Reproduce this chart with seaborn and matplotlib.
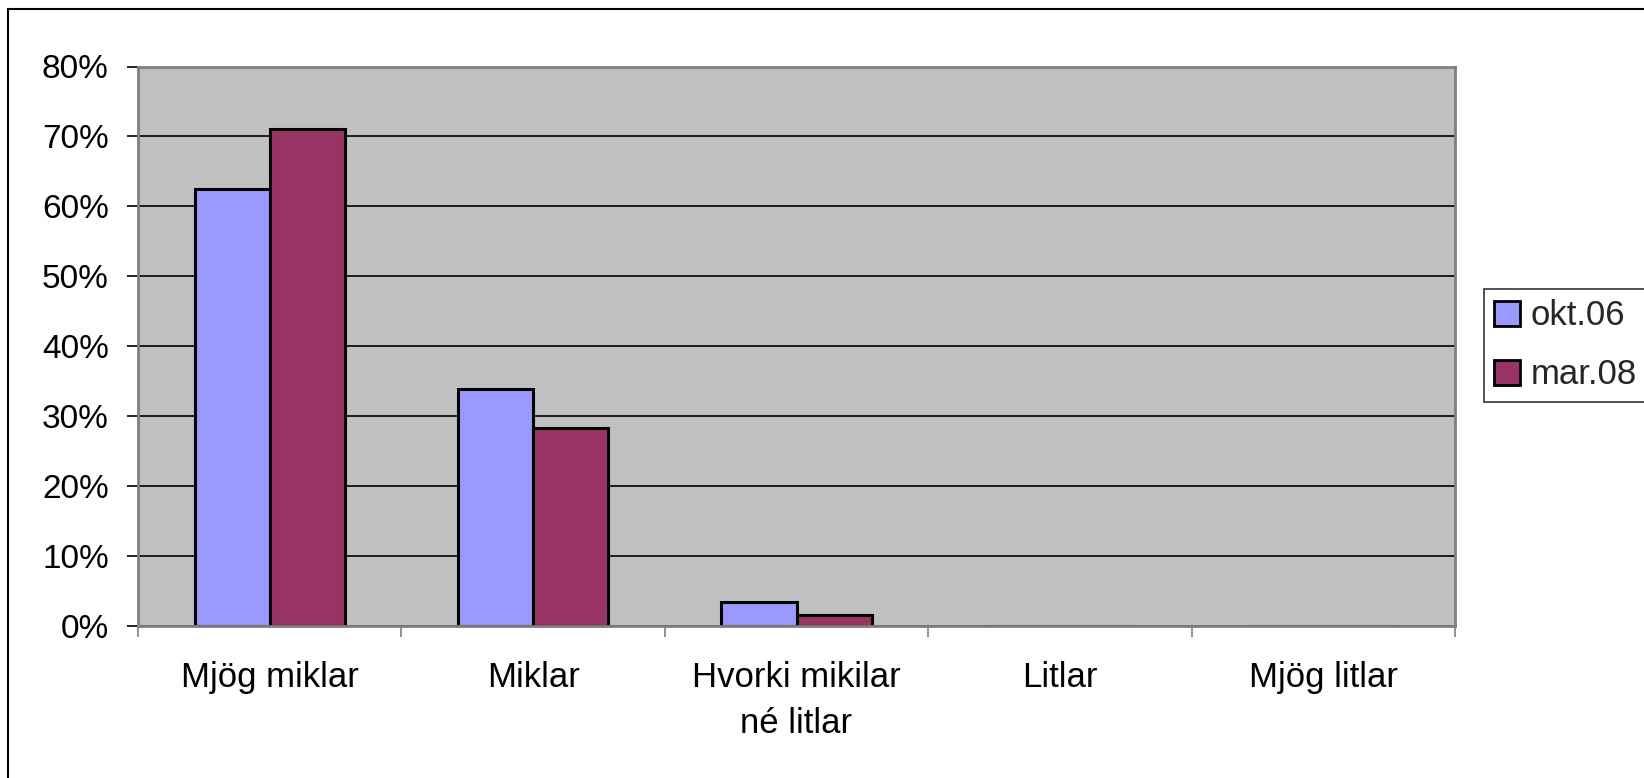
import pandas as pd
import numpy as np
import matplotlib
matplotlib.use('Agg')
import matplotlib.pyplot as plt
import seaborn as sns
from matplotlib.ticker import FixedLocator, PercentFormatter

categories = ['Mjög miklar', 'Miklar', 'Hvorki mikilar\nné litlar', 'Litlar', 'Mjög litlar']
series = ['okt.06', 'mar.08']
okt06 = [62.5, 33.9, 3.5, 0.0, 0.0]
mar08 = [71.0, 28.3, 1.6, 0.0, 0.0]
colors = ['#9999FF', '#993366']

df = pd.DataFrame({
    'Flokkur': categories * 2,
    'Tímabil': [series[0]] * len(categories) + [series[1]] * len(categories),
    'Hlutfall': okt06 + mar08,
})

sns.set_theme(style='white')
plt.rcParams['font.family'] = ['Liberation Sans', 'DejaVu Sans']

fig = plt.figure(figsize=(16.44, 7.78), dpi=100)
ax = fig.add_axes([138/1644, 1 - 626/778, (1455-138)/1644, (626-66.5)/778])
ax.set_facecolor('#C0C0C0')

sns.barplot(data=df, x='Flokkur', y='Hlutfall', hue='Tímabil', palette=colors,
            saturation=1, width=0.57, edgecolor='black', linewidth=2.2, ax=ax, legend=True)

ax.set_ylim(0, 80)
ax.set_xlim(-0.5, len(categories) - 0.5)
ax.set_yticks(np.arange(0, 81, 10))
ax.yaxis.set_major_formatter(PercentFormatter(decimals=0))
ax.yaxis.grid(True, color='black', linewidth=1.2)
ax.set_axisbelow(True)
ax.set_xlabel('')
ax.set_ylabel('')

for s in ax.spines.values():
    s.set_color('#808080')
    s.set_linewidth(2)

ax.tick_params(axis='y', which='major', left=True, length=8, width=1.2, color='black',
               pad=13, labelsize=24, labelcolor='black')
ax.tick_params(axis='x', which='major', bottom=False, length=0, pad=25,
               labelsize=25, labelcolor='black')
for t in ax.get_xticklabels():
    t.set_linespacing(1.5)
ax.xaxis.set_minor_locator(FixedLocator(np.arange(-0.5, len(categories), 1.0)))
ax.tick_params(axis='x', which='minor', bottom=True, length=8, width=1.2, color='#808080')

handles, labels = ax.get_legend_handles_labels()
ax.get_legend().remove()
leg = fig.legend(handles, labels, loc='upper left', bbox_to_anchor=(1484/1644, 1 - 289/778),
                 fontsize=25, frameon=True, fancybox=False, handlelength=0.75, handleheight=0.75,
                 handletextpad=0.3, borderpad=0.3, labelspacing=0.75, borderaxespad=0)
leg.get_frame().set_edgecolor('black')
leg.get_frame().set_linewidth(1.2)
for h in leg.legend_handles:
    h.set_edgecolor('black')
    h.set_linewidth(2)

# outer chart frame
fig.add_artist(plt.Line2D([8/1644, 8/1644], [0, 1 - 9/778], color='black', lw=1.5, transform=fig.transFigure))
fig.add_artist(plt.Line2D([8/1644, 1], [1 - 9/778, 1 - 9/778], color='black', lw=1.5, transform=fig.transFigure))

fig.savefig('out.png', dpi=100)
